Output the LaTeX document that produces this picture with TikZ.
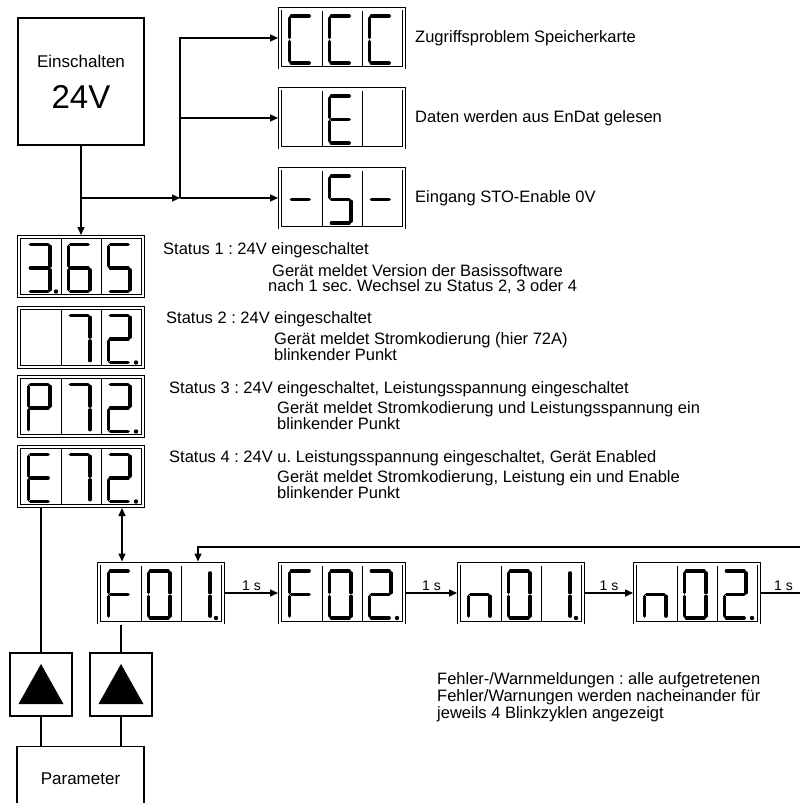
\documentclass[tikz,border=0pt]{standalone}
\usepackage{fontspec}
\setmainfont{Liberation Sans}
\usetikzlibrary{arrows.meta, positioning}
\frenchspacing

% one seven-segment digit, #1/#2 = top left, #3 = list of segments (x = blank)
\newcommand{\segdigit}[3]{%
  \begin{scope}[shift={(#1,#2)}]
  \foreach \s in {#3}{%
    \if a\s \draw[seg] (2,0) -- (19.5,0); \fi
    \if b\s \draw[seg] (21.5,2) -- (21.5,21.5); \fi
    \if c\s \draw[seg] (21.5,25.5) -- (21.5,45); \fi
    \if d\s \draw[seg] (2,47) -- (19.5,47); \fi
    \if e\s \draw[seg] (0,25.5) -- (0,45); \fi
    \if f\s \draw[seg] (0,2) -- (0,21.5); \fi
    \if g\s \draw[seg] (2,23.5) -- (19.5,23.5); \fi
  }
  \end{scope}}

% display with three digits, #7 = cell with the dot (0 = none)
\newcommand{\display}[7]{%
  \node[disp] (#1) at (#2,#3) {};
  \begin{scope}[shift={(#2,#3)}]
    \draw[divider] (-20,-27.5) -- (-20,27.5) (20,-27.5) -- (20,27.5);
    \segdigit{-52.5}{-22}{#4}
    \segdigit{-12.5}{-22}{#5}
    \segdigit{27.5}{-22}{#6}
    \ifnum#7>0 \fill (-65+40*#7,25) circle (2.2); \fi
  \end{scope}}

\begin{document}
\begin{tikzpicture}[x=1pt, y=-1pt,
    box/.style={rectangle, draw, line width=1.2pt, inner sep=0pt, align=center},
    disp/.style={rectangle, draw, double, double distance=2pt, line width=0.9pt, minimum width=124pt, minimum height=59pt, inner sep=0pt, outer sep=2pt},
    divider/.style={line width=1pt},
    seg/.style={line width=3.7pt, line cap=round},
    wire/.style={line width=1.3pt},
    arr/.style={wire, -{Triangle[length=8pt, width=7pt]}},
    dblarr/.style={wire, {Triangle[length=8pt, width=7pt]}-{Triangle[length=8pt, width=7pt]}},
    txt/.style={inner sep=0pt, anchor=west, font=\fontsize{16.5}{17}\selectfont},
    lbl/.style={inner sep=1.5pt, font=\fontsize{14}{16}\selectfont}
]
\useasboundingbox (0,0) rectangle (800,803);
\clip (0,0) rectangle (800,803);

\node[box, minimum width=126pt, minimum height=127pt] (pwr) at (81,81.5) {\fontsize{17}{20}\selectfont Einschalten\\[17pt]\fontsize{33}{36}\selectfont 24V};

\display{ccc}{342}{38}{a,d,e,f}{a,d,e,f}{a,d,e,f}{0}
\display{endat}{342}{118}{x}{a,d,e,f,g}{x}{0}
\display{sto}{342}{198}{g}{a,c,d,f,g}{g}{0}
\node[txt, right=9pt of ccc] (tccc) {Zugriffsproblem Speicherkarte};
\node[txt, right=9pt of endat] (tendat) {Daten werden aus EnDat gelesen};
\node[txt, right=9pt of sto] (tsto) {Eingang STO-Enable 0V};

\display{s1}{81}{266.5}{a,b,c,d,g}{a,c,d,e,f,g}{a,c,d,f,g}{1}
\display{s2}{81}{337.5}{x}{a,b,c}{a,b,d,e,g}{3}
\display{s3}{81}{406.5}{a,b,e,f,g}{a,b,c}{a,b,d,e,g}{3}
\display{s4}{81}{476.5}{a,d,e,f,g}{a,b,c}{a,b,d,e,g}{3}

\node[txt] (st1) at (163,250) {Status 1 : 24V eingeschaltet};
\node[txt] (st1a) at (272,271) {Gerät meldet Version der Basissoftware};
\node[txt] (st1b) at (268,287) {nach 1 sec. Wechsel zu Status 2, 3 oder 4};
\node[txt] (st2) at (166,319) {Status 2 : 24V eingeschaltet};
\node[txt] (st2a) at (274,340) {Gerät meldet Stromkodierung (hier 72A)};
\node[txt] (st2b) at (274,355) {blinkender Punkt};
\node[txt] (st3) at (169,389) {Status 3 : 24V eingeschaltet, Leistungsspannung eingeschaltet};
\node[txt] (st3a) at (277,409) {Gerät meldet Stromkodierung und Leistungsspannung ein};
\node[txt] (st3b) at (277,424) {blinkender Punkt};
\node[txt] (st4) at (169,458) {Status 4 : 24V u. Leistungsspannung eingeschaltet, Gerät Enabled};
\node[txt] (st4a) at (277,478) {Gerät meldet Stromkodierung, Leistung ein und Enable};
\node[txt] (st4b) at (277,493) {blinkender Punkt};

\display{f01}{161}{593}{a,e,f,g}{a,b,c,d,e,f}{b,c}{3}
\display{f02}{342}{593}{a,e,f,g}{a,b,c,d,e,f}{a,b,d,e,g}{3}
\display{n01}{521}{593}{c,e,g}{a,b,c,d,e,f}{b,c}{3}
\display{n02}{697}{593}{c,e,g}{a,b,c,d,e,f}{a,b,d,e,g}{3}

\node[txt, align=left] (fehler) at (437,697) {Fehler-/Warnmeldungen : alle aufgetretenen\\Fehler/Warnungen werden nacheinander für\\jeweils 4 Blinkzyklen angezeigt};

\node[box, minimum width=62pt, minimum height=63pt] (up1) at (41,684.5) {};
\node[box, minimum width=62pt, minimum height=63pt] (up2) at (121,684.5) {};
\fill (up1.center) ++(-22.5,19.5) -- ++(45,0) -- ++(-22.5,-40) -- cycle;
\fill (up2.center) ++(-22.5,19.5) -- ++(45,0) -- ++(-22.5,-40) -- cycle;
\node[box, minimum width=127pt, minimum height=64pt, anchor=north] (par) at (80.5,746) {\fontsize{17}{20}\selectfont Parameter};

\coordinate (j1) at (81,198);
\coordinate (j2) at (180,198);
\coordinate (dn) at ([xshift=41pt]s4.south);
\coordinate (fb) at ([xshift=37pt]f01.north);
\coordinate (loopa) at (806,593);
\coordinate (loopb) at (806,547);

\draw[arr] (pwr) -- (s1);
\draw[arr] (j1) -- (j2);
\draw[arr] (j2) -- (sto);
\draw[arr] (j2) |- (endat);
\draw[arr] (j2) |- (ccc);
\draw[dblarr] (dn) -- (dn |- f01.north);
\draw[arr] (f01) -- node[lbl, above] {1 s} (f02);
\draw[arr] (f02) -- node[lbl, above] {1 s} (n01);
\draw[arr] (n01) -- node[lbl, above] {1 s} (n02);
\draw[arr] (n02) -- node[lbl, above] {1 s} (loopa) -- (loopb) -| (fb);
\draw[wire] (up1 |- s4.south) -- (up1);
\draw[wire] (up2 |- f01.south) -- (up2);
\draw[wire] (up1) -- (up1 |- par.north);
\draw[wire] (up2) -- (up2 |- par.north);
\end{tikzpicture}
\end{document}
